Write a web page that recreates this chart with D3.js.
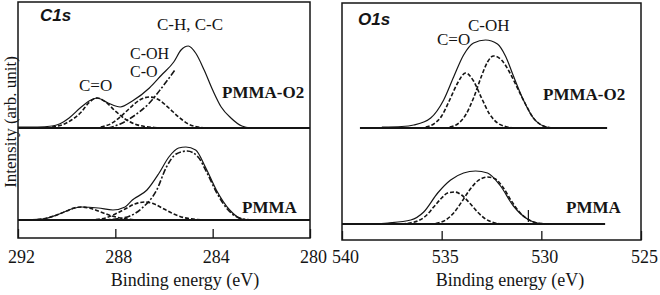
<!DOCTYPE html>
<html>
<head>
<meta charset="utf-8">
<script src="https://cdn.jsdelivr.net/npm/d3@7"></script>
<style>
  body { margin: 0; background: #fff; }
  svg { display: block; }
</style>
</head>
<body>
<div class="chart"></div>
<script>
// ---- data: [binding energy (eV), intensity (arb.)] ----
const c1sTicks = [292, 288, 284, 280];
const o1sTicks = [540, 535, 530, 525];

// C1s, PMMA-O2
const c1sO2Envelope = [[292.0,1],[291.2,1],[290.6,2],[290.3,4],[289.9,10],[289.4,21],[289.0,28],[288.75,30],[288.3,25],[287.8,21],[287.3,27],[286.6,40],[286.1,53],[285.6,66],[285.3,78],[285.0,82],[284.7,75],[284.35,58],[284.0,38],[283.65,21],[283.25,10],[282.8,2],[282.4,0]];
const c1sO2CdO = [[290.6,1],[290.2,3],[289.8,8],[289.4,16],[289.1,25],[288.75,30],[288.4,26],[288.0,17],[287.6,9],[287.2,4],[286.8,1.5],[286.4,0.5],[286.0,0]];
const c1sO2CO = [[288.6,1],[288.2,4],[287.8,11],[287.4,20],[287.0,28],[286.6,31],[286.2,28],[285.8,20],[285.4,11],[285.0,4],[284.6,1],[284.2,0]];
const c1sO2CH = [[288.3,0],[287.8,4],[287.3,11],[286.6,25],[286.1,40],[285.55,58]];
const c1sO2Base = [[292,0],[280,0]];

// C1s, PMMA
const c1sEnvelope = [[292,0],[291.0,1],[290.3,6],[289.8,11],[289.4,13],[288.7,12],[288.1,10],[287.6,13],[287.3,20],[286.7,30],[286.2,47],[285.8,63],[285.4,72],[285.1,73],[284.7,70],[284.3,53],[283.85,30],[283.3,10],[282.8,1],[282.4,0]];
const c1sCdO = [[291.2,0.5],[290.8,2],[290.4,5],[290.0,9],[289.7,12],[289.4,13],[289.0,11.5],[288.6,8],[288.2,4.5],[287.8,2],[287.4,0.6],[287.0,0]];
const c1sCO = [[288.8,0.5],[288.4,2],[288.0,6],[287.6,11],[287.2,16],[286.8,18],[286.4,16],[286.0,11],[285.6,6],[285.2,2.5],[284.8,1],[284.4,0]];
const c1sCH = [[288.6,0],[288.0,1],[287.4,4],[286.9,12],[286.3,30],[285.9,53],[285.5,66],[285.05,69],[284.6,63],[284.25,48],[283.85,28],[283.4,11],[283.0,3],[282.6,0.5],[282.2,0]];
const c1sBase = [[292,0],[280,0]];

// O1s, PMMA-O2
const o1sO2Envelope = [[538.0,1],[537.0,1.5],[536.4,3],[535.55,10],[534.9,28],[534.4,51],[533.9,73],[533.4,85],[532.8,88],[532.2,84],[531.8,72],[531.4,52],[530.9,28],[530.4,10],[529.9,2],[529.4,0]];
const o1sO2CdO = [[535.8,1],[535.4,4],[535.0,12],[534.6,28],[534.2,45],[533.8,55],[533.4,47],[533.0,30],[532.6,14],[532.2,5],[531.8,1.5],[531.4,0]];
const o1sO2COH = [[534.6,1],[534.2,4],[533.8,13],[533.4,30],[533.0,52],[532.7,66],[532.4,72],[532.0,68],[531.6,56],[531.2,40],[530.8,24],[530.4,10],[530.0,3],[529.6,0.5],[529.2,0]];
const o1sO2Base = [[539.1,0],[526.7,0]];

// O1s, PMMA
const o1sEnvelope = [[538.5,0],[537.7,1],[536.55,4],[535.9,12],[535.2,31],[534.55,44],[533.9,51],[533.3,53],[532.7,51],[532.05,38],[531.4,18],[530.7,5],[530.2,1],[529.6,0]];
const o1sCdO = [[537.0,0],[536.6,1],[536.2,3],[535.8,8],[535.4,17],[535.0,26],[534.7,31],[534.35,32],[534.0,29],[533.6,21],[533.2,12],[532.8,5],[532.4,1.5],[532.0,0]];
const o1sCOH = [[535.6,0],[535.2,1],[534.8,4],[534.4,11],[534.0,22],[533.6,34],[533.2,43],[532.7,47],[532.3,45],[531.9,36],[531.5,23],[531.1,12],[530.7,5],[530.3,1.5],[529.9,0.3],[529.5,0]];
const o1sBase = [[540,0],[526.8,0]];
const o1sMarker = [530.65];

// ---- drawing ----
const width = 660, height = 295;
const ink = "#151515";
const serif = "'Liberation Serif', 'Times New Roman', serif";
const sans = "'Liberation Sans', Arial, sans-serif";

let svg = d3.select(".chart")
  .append("svg")
  .attr("width", width)
  .attr("height", height);

let xC = d3.scaleLinear().domain([292, 280]).range([18, 310]);
let xO = d3.scaleLinear().domain([540, 525]).range([342, 641]);

// one px per intensity unit, baselines at the sub-plot floor
let yCTop = d3.scaleLinear().domain([0, 100]).range([128, 28]);
let yCBot = d3.scaleLinear().domain([0, 100]).range([220, 120]);
let yOTop = d3.scaleLinear().domain([0, 100]).range([128, 28]);
let yOBot = d3.scaleLinear().domain([0, 100]).range([224, 124]);

const styles = {
  envelope: { dash: null, w: 1.2 },
  base: { dash: null, w: 2 },
  dash: { dash: "4,2", w: 1.6 },
  dashdot: { dash: "6,2,2,2", w: 1.6 }
};

function drawCurve(x, y, data, style) {
  let s = styles[style];
  let line = d3.line()
    .x(d => x(d[0]))
    .y(d => y(d[1]))
    .curve(d3.curveMonotoneX);
  svg.append("path")
    .datum(data.slice().sort((a, b) => b[0] - a[0]))
    .attr("d", line)
    .attr("fill", "none")
    .attr("stroke", ink)
    .attr("stroke-width", s.w)
    .attr("stroke-dasharray", s.dash)
    .attr("stroke-linejoin", "round");
}

function drawFrame(x, top, bottom, ticks, titleX) {
  let r = x.range();
  svg.append("rect")
    .attr("x", r[0]).attr("y", top)
    .attr("width", r[1] - r[0]).attr("height", bottom - top)
    .attr("fill", "none")
    .attr("stroke", ink)
    .attr("stroke-width", 1.5);

  let axis = d3.axisBottom(x).tickValues(ticks).tickSize(-9).tickFormat(d3.format("d"));
  let g = svg.append("g")
    .attr("transform", "translate(0," + bottom + ")")
    .call(axis);
  g.select(".domain").remove();
  g.attr("font-family", serif).attr("font-size", 18);
  g.selectAll(".tick line").attr("stroke", ink).attr("stroke-width", 1.3);
  g.selectAll(".tick text")
    .attr("y", 263 - bottom)
    .attr("dy", null)
    .attr("dx", 3)
    .attr("fill", ink);

  svg.append("text")
    .attr("x", titleX)
    .attr("y", 286)
    .attr("text-anchor", "middle")
    .attr("font-family", serif)
    .attr("font-size", 18)
    .attr("fill", ink)
    .text("Binding energy (eV)");
}

function label(x, y, txt, opts) {
  opts = opts || {};
  svg.append("text")
    .attr("x", x).attr("y", y)
    .attr("font-family", opts.family || serif)
    .attr("font-size", opts.size || 17)
    .attr("font-weight", opts.bold ? "bold" : null)
    .attr("font-style", opts.italic ? "italic" : null)
    .attr("fill", ink)
    .text(txt);
}

// C1s panel
drawFrame(xC, 2, 238, c1sTicks, 185);
drawCurve(xC, yCTop, c1sO2Base, "base");
drawCurve(xC, yCTop, c1sO2CdO, "dash");
drawCurve(xC, yCTop, c1sO2CO, "dash");
drawCurve(xC, yCTop, c1sO2CH, "dashdot");
drawCurve(xC, yCTop, c1sO2Envelope, "envelope");
drawCurve(xC, yCBot, c1sBase, "base");
drawCurve(xC, yCBot, c1sCdO, "dash");
drawCurve(xC, yCBot, c1sCO, "dash");
drawCurve(xC, yCBot, c1sCH, "dashdot");
drawCurve(xC, yCBot, c1sEnvelope, "envelope");

// O1s panel
drawFrame(xO, 3, 240, o1sTicks, 510);
drawCurve(xO, yOTop, o1sO2Base, "base");
drawCurve(xO, yOTop, o1sO2CdO, "dash");
drawCurve(xO, yOTop, o1sO2COH, "dash");
drawCurve(xO, yOTop, o1sO2Envelope, "envelope");
drawCurve(xO, yOBot, o1sBase, "base");
drawCurve(xO, yOBot, o1sCdO, "dash");
drawCurve(xO, yOBot, o1sCOH, "dash");
drawCurve(xO, yOBot, o1sEnvelope, "envelope");

svg.selectAll(".marker")
  .data(o1sMarker)
  .enter()
  .append("line")
  .attr("x1", d => xO(d)).attr("x2", d => xO(d))
  .attr("y1", yOBot(2)).attr("y2", yOBot(14))
  .attr("stroke", ink)
  .attr("stroke-width", 1.2);

// texts
label(40, 21, "C1s", { family: sans, bold: true, italic: true, size: 17 });
label(157, 30, "C-H, C-C");
label(130, 59, "C-OH", { size: 16 });
label(130, 77, "C-O", { size: 16 });
label(79, 91, "C=O");
label(222, 98, "PMMA-O2", { bold: true });
label(242, 213, "PMMA", { bold: true });

label(358, 25, "O1s", { family: sans, bold: true, italic: true, size: 17 });
label(468, 31, "C-OH");
label(437, 45, "C=O");
label(543, 100, "PMMA-O2", { bold: true });
label(566, 213, "PMMA", { bold: true });

svg.append("text")
  .attr("transform", "translate(15.5,122) rotate(-90)")
  .attr("text-anchor", "middle")
  .attr("font-family", serif)
  .attr("font-size", 17)
  .attr("fill", ink)
  .text("Intensity (arb. unit)");
</script>
</body>
</html>
